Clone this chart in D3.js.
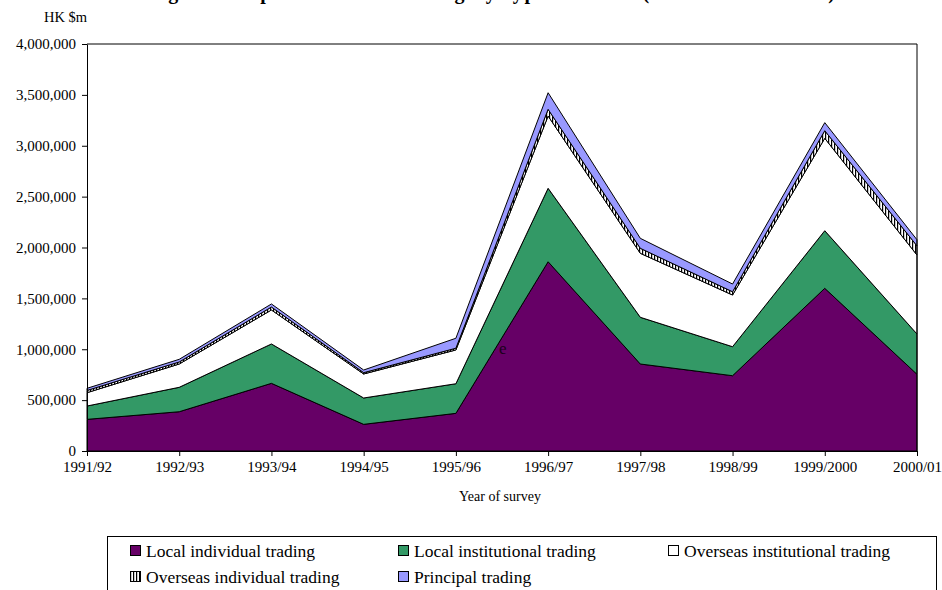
<!DOCTYPE html>
<html>
<head>
<meta charset="utf-8">
<script src="https://cdn.jsdelivr.net/npm/d3@7"></script>
<style>
  html, body { margin: 0; padding: 0; background: #fff; }
  svg { display: block; font-family: "Liberation Serif", "Times New Roman", serif; }
</style>
</head>
<body>
<svg id="chart" width="942" height="590"></svg>
<script>
// Value of trading by type of trade, HK$ million
const years = ["1991/92", "1992/93", "1993/94", "1994/95", "1995/96",
               "1996/97", "1997/98", "1998/99", "1999/2000", "2000/01"];
const localIndividual       = [311000, 386000, 665000, 262000, 370000, 1860000, 855000, 740000, 1599000, 754000];
const localInstitutional    = [131000, 240000, 387000, 259000, 291000, 722000, 459000, 285000, 566000, 396000];
const overseasInstitutional = [131000, 229000, 334000, 236000, 332000, 710000, 629000, 508000, 908000, 776000];
const overseasIndividual    = [22000, 20000, 29000, 13000, 17000, 66000, 49000, 32000, 75000, 90000];
const principalTrading      = [21000, 26000, 30000, 26000, 98000, 163000, 98000, 76000, 79000, 60000];
const yTicks = [0, 500000, 1000000, 1500000, 2000000, 2500000, 3000000, 3500000, 4000000];

const seriesNames = ["Local individual trading", "Local institutional trading",
                     "Overseas institutional trading", "Overseas individual trading",
                     "Principal trading"];
const seriesValues = [localIndividual, localInstitutional, overseasInstitutional,
                      overseasIndividual, principalTrading];
const fills = ["#660066", "#339966", "#ffffff", "url(#vhatch)", "#9999ff"];

const rows = years.map((yr, i) => {
  const r = { year: yr };
  seriesNames.forEach((k, j) => r[k] = seriesValues[j][i]);
  return r;
});

const svg = d3.select("#chart");

// vertical stripe pattern
const defs = svg.append("defs");
const pat = defs.append("pattern").attr("id", "vhatch")
  .attr("patternUnits", "userSpaceOnUse").attr("width", 3).attr("height", 3);
pat.append("rect").attr("width", 3).attr("height", 3).attr("fill", "#fff");
pat.append("rect").attr("x", 0).attr("width", 1.2).attr("height", 3).attr("fill", "#000");

const x = d3.scalePoint().domain(years).range([87, 917]);
const y = d3.scaleLinear().domain([0, 4000000]).range([451, 44]);

// title
svg.append("text")
  .attr("x", 147).attr("y", -1.5)
  .attr("textLength", 688).attr("lengthAdjust", "spacing")
  .attr("font-size", 20).attr("font-weight", "bold")
  .text("Figure 3: Split value of trading by type of trade (1991/92 - 2000/01)");

svg.append("text").attr("x", 44).attr("y", 22).attr("font-size", 14.5).text("HK $m");

// stacked areas
const stack = d3.stack().keys(seriesNames);
const layers = stack(rows);
const area = d3.area()
  .x(d => x(d.data.year))
  .y0(d => y(d[0]))
  .y1(d => y(d[1]));

svg.append("g").selectAll("path").data(layers).join("path")
  .attr("d", area)
  .attr("fill", (d, i) => fills[i])
  .attr("stroke", "#000")
  .attr("stroke-width", 1)
  .attr("stroke-linejoin", "miter");

// plot frame (top and right)
svg.append("path")
  .attr("d", `M${x.range()[0]},${y(4000000)}H${x.range()[1]}V${y(0)}`)
  .attr("fill", "none").attr("stroke", "#000").attr("stroke-width", 1);

// axes
const yAxis = svg.append("g").attr("transform", `translate(${x.range()[0]},0)`)
  .call(d3.axisLeft(y).tickValues(yTicks).tickFormat(d3.format(",")).tickSize(5).tickSizeOuter(0));
yAxis.selectAll("text").attr("font-size", 15).attr("font-family", "Liberation Serif").attr("fill", "#000").attr("x", -11);
yAxis.select(".domain").attr("stroke", "#000");

const xAxis = svg.append("g").attr("transform", `translate(0,${y(0)})`)
  .call(d3.axisBottom(x).tickSize(5).tickSizeOuter(0));
xAxis.selectAll("text").attr("font-size", 15).attr("font-family", "Liberation Serif").attr("fill", "#000").attr("dy", "0.75em").attr("y", 10);
xAxis.select(".domain").attr("stroke", "#000");

svg.append("text").attr("x", 500).attr("y", 501).attr("text-anchor", "middle")
  .attr("font-size", 14).text("Year of survey");

// stray label inside plot
svg.append("text").attr("x", 499).attr("y", 354).attr("font-size", 17)
  .attr("fill", "#1a001a").text("e");

// legend
svg.append("rect").attr("x", 107.5).attr("y", 536.5).attr("width", 829).attr("height", 70)
  .attr("fill", "#fff").attr("stroke", "#000").attr("stroke-width", 1);

const legendPos = [[130, 545], [398, 545], [668, 545], [130, 571], [398, 571]];
const lg = svg.append("g").selectAll("g").data(seriesNames).join("g")
  .attr("transform", (d, i) => `translate(${legendPos[i][0]},${legendPos[i][1]})`);
lg.append("rect").attr("x", 0.5).attr("y", 0.5).attr("width", 10).attr("height", 10)
  .attr("fill", (d, i) => fills[i]).attr("stroke", "#000").attr("stroke-width", 1);
lg.append("text").attr("x", 16).attr("y", 11.5).attr("font-size", 17.5).text(d => d);
</script>
</body>
</html>
